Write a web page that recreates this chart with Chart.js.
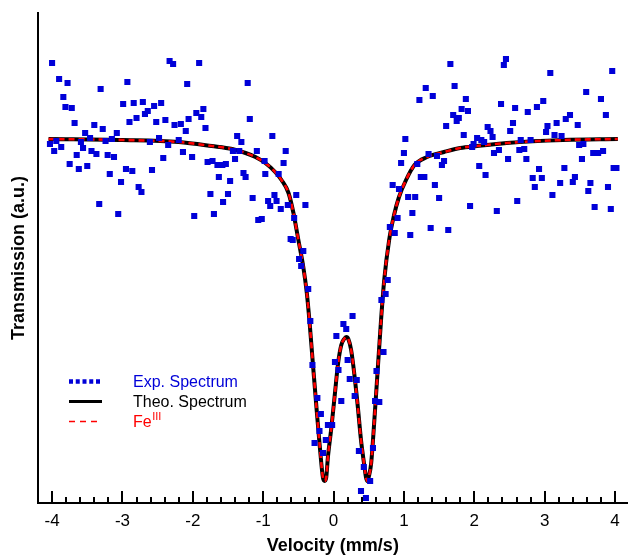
<!DOCTYPE html>
<html>
<head>
<meta charset="utf-8">
<title>Mössbauer spectrum</title>
<script src="https://cdn.jsdelivr.net/npm/chart.js@4.4.1/dist/chart.umd.min.js"></script>
<style>
  html, body { margin: 0; padding: 0; background: #fff; }
  #wrap { width: 632px; height: 557px; }
</style>
</head>
<body>
<div id="wrap"><canvas id="spectrum" width="632" height="557"></canvas></div>
<script>
// Measured spectrum: source velocity (mm/s) and relative transmission
const expVelocity = [
  -4.03, -4.00, -3.97, -3.94, -3.90, -3.87, -3.84, -3.81, -3.78, -3.75,
  -3.72, -3.68, -3.65, -3.62, -3.59, -3.56, -3.53, -3.50, -3.46, -3.44,
  -3.40, -3.37, -3.33, -3.31, -3.28, -3.24, -3.21, -3.18, -3.15, -3.12,
  -3.08, -3.06, -3.02, -2.99, -2.95, -2.93, -2.90, -2.86, -2.84, -2.80,
  -2.77, -2.73, -2.71, -2.68, -2.64, -2.61, -2.58, -2.55, -2.52, -2.48,
  -2.45, -2.42, -2.39, -2.35, -2.33, -2.28, -2.26, -2.20, -2.17, -2.14,
  -2.10, -2.08, -2.06,
  -2.01, -1.98, -1.95, -1.91, -1.88, -1.85, -1.82, -1.79, -1.75, -1.72,
  -1.70, -1.65, -1.63, -1.58, -1.57, -1.53, -1.50, -1.47, -1.43, -1.40,
  -1.37, -1.34, -1.31, -1.28, -1.25, -1.22, -1.19, -1.15, -1.09, -1.07,
  -1.02, -0.98, -0.97, -0.93, -0.90, -0.87, -0.84, -0.81, -0.78, -0.75,
  -0.71, -0.68, -0.65, -0.61, -0.58, -0.56, -0.53, -0.49, -0.46, -0.43,
  -0.40, -0.36, -0.33,
  -0.30, -0.27, -0.23, -0.20, -0.18, -0.15, -0.11, -0.08, -0.02, 0.02,
  0.04, 0.07, 0.11, 0.14, 0.18, 0.20, 0.23, 0.27, 0.30, 0.33,
  0.36, 0.39, 0.43, 0.46, 0.52, 0.56, 0.59, 0.61, 0.65, 0.68,
  0.71,
  0.74, 0.77, 0.80, 0.84, 0.87, 0.91, 0.93, 0.96, 1.00, 1.02,
  1.06, 1.09, 1.12, 1.16, 1.19, 1.22, 1.24, 1.29, 1.31, 1.35,
  1.38, 1.41, 1.44, 1.47, 1.50, 1.54, 1.57, 1.60, 1.63, 1.66,
  1.70, 1.72, 1.75, 1.78, 1.82, 1.85, 1.88, 1.91, 1.94, 1.97,
  1.99, 2.04, 2.07, 2.10, 2.14, 2.16, 2.19, 2.23, 2.26, 2.28,
  2.32, 2.35, 2.38, 2.42, 2.45, 2.48, 2.51, 2.55, 2.58, 2.61,
  2.64, 2.66, 2.71, 2.74, 2.76, 2.80, 2.83, 2.86, 2.89, 2.92,
  2.96, 2.98, 3.02, 3.04, 3.08, 3.11, 3.14, 3.17, 3.22, 3.24,
  3.28, 3.30, 3.36, 3.40, 3.43, 3.47, 3.49, 3.53, 3.55, 3.59,
  3.62, 3.65, 3.69, 3.71, 3.76, 3.80, 3.83, 3.87, 3.90, 3.94,
  3.96, 3.98, 4.02
];
const expTransmission = [
  0.9995, 1.0076, 0.9988, 0.9998, 1.0060, 0.9992, 1.0042, 1.0032, 1.0056, 0.9975,
  1.0031, 1.0016, 0.9984, 0.9970, 0.9997, 0.9991, 1.0006, 0.9973, 1.0001, 0.9988,
  1.0014, 0.9985, 0.9935, 1.0050, 1.0010, 0.9998, 0.9984, 0.9965, 1.0000, 0.9982,
  1.0006, 0.9925, 0.9957, 1.0035, 0.9970, 1.0057, 1.0017, 0.9968, 1.0036, 1.0021,
  0.9952, 0.9947, 1.0037, 1.0025, 1.0028, 0.9997, 0.9969, 1.0033, 1.0017, 1.0001,
  1.0036, 0.9981, 1.0019, 0.9994, 1.0078, 1.0075, 1.0014, 0.9999, 1.0015, 0.9987,
  1.0008, 1.0055, 1.0020,
  0.9982, 0.9923, 1.0026, 1.0076, 1.0022, 1.0030, 1.0011, 0.9977, 0.9945, 0.9978,
  0.9925, 0.9974, 0.9962, 0.9974, 0.9937, 0.9975, 0.9945, 0.9958, 0.9988, 0.9980,
  1.0003, 0.9988, 0.9997, 0.9966, 0.9962, 1.0056, 1.0020, 0.9941, 0.9988, 0.9919,
  0.9920, 0.9978, 0.9965, 0.9938, 0.9933, 1.0003, 0.9944, 0.9938, 0.9965, 0.9930,
  0.9976, 0.9988, 0.9934, 0.9900, 0.9899, 0.9921, 0.9944, 0.9880, 0.9873, 0.9888,
  0.9934, 0.9850, 0.9818,
  0.9774, 0.9696, 0.9741, 0.9708, 0.9725, 0.9686, 0.9699, 0.9714, 0.9714, 0.9777,
  0.9803, 0.9769, 0.9738, 0.9815, 0.9810, 0.9779, 0.9760, 0.9823, 0.9743, 0.9759,
  0.9688, 0.9648, 0.9672, 0.9641, 0.9658, 0.9691, 0.9738, 0.9768, 0.9737, 0.9839,
  0.9787,
  0.9845, 0.9859, 0.9912, 0.9954, 0.9906, 0.9921, 0.9950, 0.9976, 0.9986, 1.0000,
  0.9942, 0.9904, 0.9926, 0.9942, 0.9975, 1.0039, 0.9962, 0.9962, 1.0051, 0.9985,
  0.9911, 1.0043, 0.9954, 0.9983, 0.9941, 0.9974, 0.9978, 1.0013, 0.9909, 1.0075,
  1.0024, 1.0053, 1.0018, 1.0021, 1.0030, 1.0004, 1.0040, 1.0028, 0.9933, 0.9992,
  0.9995, 1.0001, 0.9973, 0.9999, 0.9997, 0.9964, 1.0012, 1.0008, 1.0002, 0.9986,
  0.9928, 0.9989, 1.0035, 1.0074, 1.0080, 0.9980, 1.0008, 1.0016, 1.0031, 0.9938,
  0.9989, 0.9999, 0.9990, 0.9980, 1.0027, 0.9999, 0.9961, 0.9952, 1.0032, 0.9970,
  0.9961, 1.0038, 1.0007, 1.0013, 1.0066, 0.9944, 1.0004, 1.0016, 0.9956, 1.0003,
  0.9971, 1.0020, 1.0024, 0.9957, 0.9962, 1.0014, 0.9994, 0.9980, 0.9995, 1.0047,
  0.9948, 0.9956, 0.9986, 0.9932, 0.9986, 1.0040, 0.9988, 1.0024, 0.9952, 0.9930,
  1.0068, 0.9971, 0.9971
];

// Fitted quadrupole doublet, sampled along the velocity axis
const fitVelocity = [
  -4.05, -3.00, -2.20, -1.73, -1.44, -1.25, -1.11, -0.97, -0.83, -0.74,
  -0.64, -0.57, -0.50, -0.43, -0.38, -0.34, -0.29, -0.24, -0.195, -0.15,
  -0.127, -0.105, -0.08, -0.03, 0.02, 0.065, 0.11, 0.15, 0.18, 0.21,
  0.25, 0.30, 0.345, 0.39, 0.44, 0.46, 0.48, 0.50, 0.535, 0.58,
  0.63, 0.675, 0.72, 0.79, 0.86, 0.93, 1.03, 1.15, 1.33, 1.57,
  1.80, 2.04, 2.46, 3.26, 4.04
];
const theoTransmission = [
  1.0000, 0.9999, 0.9997, 0.9993, 0.9990, 0.9986, 0.9982, 0.9976, 0.9967, 0.9959,
  0.9946, 0.9926, 0.9899, 0.9872, 0.9846, 0.9816, 0.9772, 0.9729, 0.9692, 0.9661,
  0.9658, 0.9661, 0.9682, 0.9712, 0.9746, 0.9776, 0.9794, 0.9800, 0.9802, 0.9800,
  0.9789, 0.9762, 0.9732, 0.9699, 0.9672, 0.9662, 0.9658, 0.9662, 0.9676, 0.9719,
  0.9772, 0.9819, 0.9859, 0.9899, 0.9924, 0.9942, 0.9959, 0.9974, 0.9982, 0.9987,
  0.9991, 0.9993, 0.9996, 0.9999, 1.0000
];
// only one Fe(III) site is fitted, so its subspectrum is the whole fit
const fe3Transmission = theoTransmission.slice();

const velocityTicks = [-4, -3, -2, -1, 0, 1, 2, 3, 4];

const FONT = "'Liberation Sans', Arial, Helvetica, sans-serif";
const BLUE = '#0000d8';
const RED = '#ff0000';

const pairs = (xs, ys) => xs.map((x, i) => ({ x: x, y: ys[i] }));

// major/minor ticks pointing up into the plot
const insideTicks = {
  id: 'insideTicks',
  afterDraw(chart) {
    const { ctx, chartArea, scales: { x } } = chart;
    ctx.save();
    ctx.strokeStyle = '#000';
    ctx.lineWidth = 2;
    for (let i = -21; i <= 21; i++) {
      const v = i / 5;
      if (v < x.min || v > x.max) continue;
      const px = Math.round(x.getPixelForValue(v));
      const len = i % 5 === 0 ? 12 : 6;
      ctx.beginPath();
      ctx.moveTo(px, chartArea.bottom);
      ctx.lineTo(px, chartArea.bottom - len);
      ctx.stroke();
    }
    ctx.restore();
  }
};

// key in the lower left corner
const spectrumKey = {
  id: 'spectrumKey',
  afterDraw(chart) {
    const ctx = chart.ctx;
    const x0 = 69, x1 = 102, tx = 133;
    ctx.save();

    ctx.strokeStyle = BLUE;
    ctx.lineWidth = 4.5;
    ctx.setLineDash([4, 2.75]);
    ctx.beginPath(); ctx.moveTo(x0, 381.5); ctx.lineTo(x1, 381.5); ctx.stroke();

    ctx.strokeStyle = '#000';
    ctx.lineWidth = 3;
    ctx.setLineDash([]);
    ctx.beginPath(); ctx.moveTo(x0, 401.5); ctx.lineTo(x1, 401.5); ctx.stroke();

    ctx.strokeStyle = RED;
    ctx.lineWidth = 1.6;
    ctx.setLineDash([6, 5]);
    ctx.beginPath(); ctx.moveTo(x0, 421.5); ctx.lineTo(x1, 421.5); ctx.stroke();
    ctx.setLineDash([]);

    ctx.textBaseline = 'alphabetic';
    ctx.textAlign = 'left';
    ctx.font = '16px ' + FONT;
    ctx.fillStyle = BLUE;
    ctx.fillText('Exp. Spectrum', tx, 386.5);
    ctx.fillStyle = '#000';
    ctx.fillText('Theo. Spectrum', tx, 406.5);
    ctx.fillStyle = RED;
    ctx.fillText('Fe', tx, 427);
    const w = ctx.measureText('Fe').width;
    ctx.font = '11px ' + FONT;
    ctx.fillText('III', tx + w + 0.5, 419.5);
    ctx.restore();
  }
};

new Chart(document.getElementById('spectrum'), {
  type: 'scatter',
  data: {
    datasets: [
      {
        label: 'Exp. Spectrum',
        data: pairs(expVelocity, expTransmission),
        showLine: false,
        pointStyle: 'rect',
        pointRadius: 4.3,
        pointBorderWidth: 0,
        backgroundColor: BLUE,
        borderColor: BLUE,
        order: 1
      },
      {
        label: 'Fe(III)',
        data: pairs(fitVelocity, fe3Transmission),
        showLine: true,
        borderColor: RED,
        borderWidth: 2.6,
        borderDash: [6, 4],
        pointRadius: 0,
        cubicInterpolationMode: 'monotone',
        order: 2
      },
      {
        label: 'Theo. Spectrum',
        data: pairs(fitVelocity, theoTransmission),
        showLine: true,
        borderColor: '#000',
        borderWidth: 4,
        pointRadius: 0,
        cubicInterpolationMode: 'monotone',
        order: 3
      }
    ]
  },
  options: {
    responsive: false,
    animation: false,
    layout: { padding: { top: 13, right: 0, bottom: 0, left: 0 } },
    plugins: {
      legend: { display: false },
      tooltip: { enabled: false }
    },
    scales: {
      x: {
        type: 'linear',
        min: -4.2,
        max: 4.18,
        afterBuildTicks: s => { s.ticks = velocityTicks.map(v => ({ value: v })); },
        afterFit: s => { s.height = 54; },
        grid: { display: false, drawTicks: false },
        border: { display: true, color: '#000', width: 2 },
        ticks: {
          color: '#000',
          font: { size: 17, family: FONT },
          padding: 8,
          maxRotation: 0,
          autoSkip: false
        },
        title: {
          display: true,
          text: 'Velocity (mm/s)',
          color: '#000',
          font: { size: 18, weight: 'bold', family: FONT },
          padding: { top: 0, bottom: 0 }
        }
      },
      y: {
        type: 'linear',
        min: 0.9636,
        max: 1.0126,
        afterFit: s => { s.width = 38; },
        grid: { display: false, drawTicks: false },
        border: { display: true, color: '#000', width: 2 },
        ticks: { display: false },
        title: {
          display: true,
          text: 'Transmission (a.u.)',
          color: '#000',
          font: { size: 18, weight: 'bold', family: FONT },
          padding: { top: 8, bottom: 0 }
        }
      }
    }
  },
  plugins: [insideTicks, spectrumKey]
});
</script>
</body>
</html>
